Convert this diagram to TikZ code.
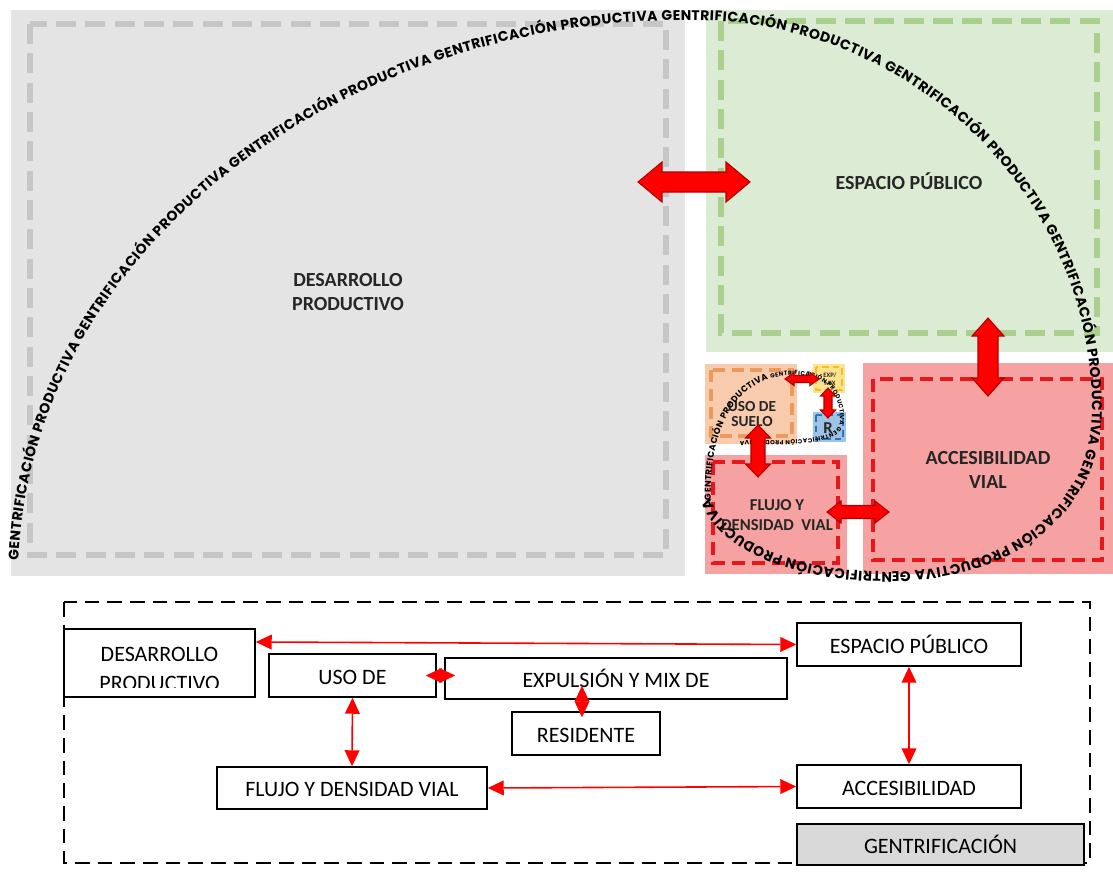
\documentclass[tikz,border=0pt]{standalone}
\usepackage{fontspec}
\setmainfont{Carlito}
\newfontfamily\spiralfont{Poppins}
\usetikzlibrary{arrows.meta,calc,decorations.text}

\definecolor{prodfill}{HTML}{E4E4E4}
\definecolor{proddash}{HTML}{C6C6C6}
\definecolor{pubfill}{HTML}{DCEBD3}
\definecolor{pubdash}{HTML}{A9D08E}
\definecolor{vialfill}{HTML}{F6A2A2}
\definecolor{vialdash}{HTML}{E3191C}
\definecolor{usofill}{HTML}{F8CBAD}
\definecolor{usodash}{HTML}{E99A5C}
\definecolor{expfill}{HTML}{FFE38F}
\definecolor{expdash}{HTML}{F5BF1F}
\definecolor{resfill}{HTML}{9DC3E6}
\definecolor{resdash}{HTML}{2E75B6}
\definecolor{arrowred}{HTML}{FF0000}
\definecolor{arrowedge}{HTML}{B00000}
\definecolor{keygray}{HTML}{D9D9D9}
\definecolor{labelink}{HTML}{262626}

% double block arrow: centre x, centre y, angle, half length, head length, half shaft, half head
\newcommand\blockarrow[7]{%
  \draw[bigarrow, shift={(#1,#2)}, rotate=#3]
    (-#4,0) -- (-#4+#5,-#7) -- (-#4+#5,-#6) -- (#4-#5,-#6) -- (#4-#5,-#7) -- (#4,0)
    -- (#4-#5,#7) -- (#4-#5,#6) -- (-#4+#5,#6) -- (-#4+#5,#7) -- cycle;}

\tikzset{
  zonebig/.style={line width=4pt, dash pattern=on 15pt off 7pt},
  zonered/.style={line width=3pt, dash pattern=on 10pt off 5pt},
  zonesmall/.style={line width=3pt, dash pattern=on 9pt off 5pt},
  zonetiny/.style={line width=2pt, dash pattern=on 5pt off 3pt},
  bigarrow/.style={fill=arrowred, draw=arrowedge, line width=0.8pt, line join=miter},
  zonelabel/.style={font=\bfseries\fontsize{15}{17.5}\selectfont, align=center, text=labelink, inner sep=0pt},
  keybox/.style={draw=black, line width=1.1pt, inner sep=0pt,
    font=\fontsize{16.5}{20}\selectfont, text height=1.4em, text depth=.1em},
  keytext/.style={font=\fontsize{16.5}{20}\selectfont, inner sep=0pt, anchor=base},
  link/.style={draw=arrowred, line width=1.2pt,
    {Triangle[length=12pt,width=11pt]}-{Triangle[length=12pt,width=11pt]}},
}

\begin{document}
\begin{tikzpicture}[x=0.75pt,y=-0.75pt]
\useasboundingbox (0,0) rectangle (1113,871);
\fill[white] (0,0) rectangle (1113,871);

% ---------- zones ----------
\fill[prodfill] (11,10) rectangle (685,576);
\draw[proddash, zonebig] (30,24) rectangle (666,555);
\fill[pubfill] (706,10) rectangle (1113,352);
\draw[pubdash, zonebig] (721,21) rectangle (1097,333);
\fill[vialfill] (863,363) rectangle (1113,574);
\draw[vialdash, zonered] (873,379) rectangle (1102,560);
\fill[vialfill] (705,455) rectangle (847,574);
\draw[vialdash, zonered] (713,462) rectangle (838,563);
\fill[usofill] (705,364) rectangle (797,444);
\draw[usodash, zonesmall] (711,370) rectangle (792,436);
\fill[expfill] (813,364) rectangle (845,393);
\draw[expdash, zonetiny] (816,367) rectangle (842,390);
\fill[resfill] (813,412) rectangle (846,442);
\draw[resdash, zonetiny] (816,415) rectangle (843,439);

% ---------- zone labels ----------
\node[zonelabel] (prodL) at (348,292) {DESARROLLO\\PRODUCTIVO};
\node[zonelabel] (pubL) at (909,181) {ESPACIO PÚBLICO};
\node[zonelabel] (accL) at (988,470) {ACCESIBILIDAD\\VIAL};
\node[zonelabel, font=\bfseries\fontsize{12.5}{15}\selectfont] (fluL) at (777,515) {FLUJO Y\\DENSIDAD\ \ VIAL};
\node[zonelabel, font=\bfseries\fontsize{11.5}{11.5}\selectfont] (usoL) at (752,414) {USO DE\\SUELO};
\node[zonelabel, font=\bfseries\fontsize{5}{6}\selectfont] (expL) at (830,379) {EXP/\\MIX};
\node[zonelabel, font=\bfseries\fontsize{12.5}{14}\selectfont] (resL) at (828,428) {R};

% ---------- spiral text ----------
\path[decorate, decoration={text along path, text align=fit to path,
  text={|\spiralfont\bfseries\fontsize{10.5}{12}\selectfont|GENTRIFICACIÓN PRODUCTIVA GENTRIFICACIÓN PRODUCTIVA GENTRIFICACIÓN PRODUCTIVA GENTRIFICACIÓN PRODUCTIVA GENTRIFICACIÓN PRODUCTIVA GENTRIFICACIÓN PRODUCTIVA GENTRIFICACIÓN PRODUCTIVA GENTRIFICACIÓN PRODUCTIVA GENTRIFICACIÓN PRODUCTIVA}}]
  (18.4,560.5) arc[start angle=182, end angle=270, x radius=672, y radius=560]
  arc[start angle=270, end angle=360, x radius=402, y radius=390]
  .. controls (1092,520) and (990,572) .. (890,572)
  .. controls (800,572) and (728,545) .. (711,500);
\path[decorate, decoration={text along path, text align=fit to path,
  text={|\spiralfont\bfseries\fontsize{6.5}{7}\selectfont|GENTRIFICACIÓN PRODUCTIVA |\spiralfont\bfseries\fontsize{4.5}{5}\selectfont|GENTRIFICACIÓN PRODUCTIVA GENTRIFICACIÓN PRODUCTIVA}}]
  (711,500) .. controls (709,430) and (735,375) .. (795,375)
  .. controls (828,375) and (840,395) .. (840,420)
  .. controls (840,438) and (815,441) .. (740,441);

% ---------- block arrows ----------
\blockarrow{694}{182}{0}{56}{24}{10}{20}
\blockarrow{988}{357}{90}{39}{18}{10}{16}
\blockarrow{858}{512}{0}{31}{14}{6.5}{11}
\blockarrow{758}{451}{90}{26}{13}{7}{12.5}
\blockarrow{802}{379}{0}{17}{9}{3.5}{6.5}
\blockarrow{828}{403}{90}{15}{8}{4}{7.5}

% ---------- key diagram ----------
\draw[black, line width=1.5pt, dash pattern=on 11pt off 6pt] (64,602) rectangle (1090,863);

\node[keybox, minimum width=191*0.75pt, minimum height=68*0.75pt] (desK) at (159.5,663) {};
\begin{scope}
  \clip (64,629) rectangle (255,687);
  \node[keytext] (desK1) at (159.5,661) {DESARROLLO};
  \node[keytext] (desK2) at (159.5,690) {PRODUCTIVO};
\end{scope}
\node[keybox, minimum width=167*0.75pt, minimum height=43*0.75pt] (usoK) at (352.5,675.5) {USO DE};
\node[keybox, minimum width=342*0.75pt, minimum height=41*0.75pt] (expK) at (616,678.5) {EXPULSIÓN Y MIX DE};
\node[keybox, minimum width=148*0.75pt, minimum height=43*0.75pt] (resK) at (586,733.5) {RESIDENTE};
\node[keybox, minimum width=270*0.75pt, minimum height=42*0.75pt] (fluK) at (352,788) {FLUJO Y DENSIDAD VIAL};
\node[keybox, minimum width=224*0.75pt, minimum height=43*0.75pt] (espK) at (909,644.5) {ESPACIO PÚBLICO};
\node[keybox, minimum width=224*0.75pt, minimum height=43*0.75pt] (accK) at (909,786.5) {ACCESIBILIDAD};
\node[keybox, fill=keygray, minimum width=287*0.75pt, minimum height=41*0.75pt] (genK) at (940.5,844.5) {GENTRIFICACIÓN};

\draw[link] ($(desK.east)+(0,-21)$) -- (espK.west);
\draw[link] ($(usoK.east)+(-11,0)$) -- ($(usoK.east -| expK.west)+(11,0)$);
\draw[link] ($(expK.south -| resK.north)+(-4,-14)$) -- ($(resK.north)+(-4,6)$);
\draw[link] (usoK.south) -- (fluK.north);
\draw[link] (fluK.east) -- (accK.west);
\draw[link] (espK.south) -- (accK.north);
\end{tikzpicture}
\end{document}
